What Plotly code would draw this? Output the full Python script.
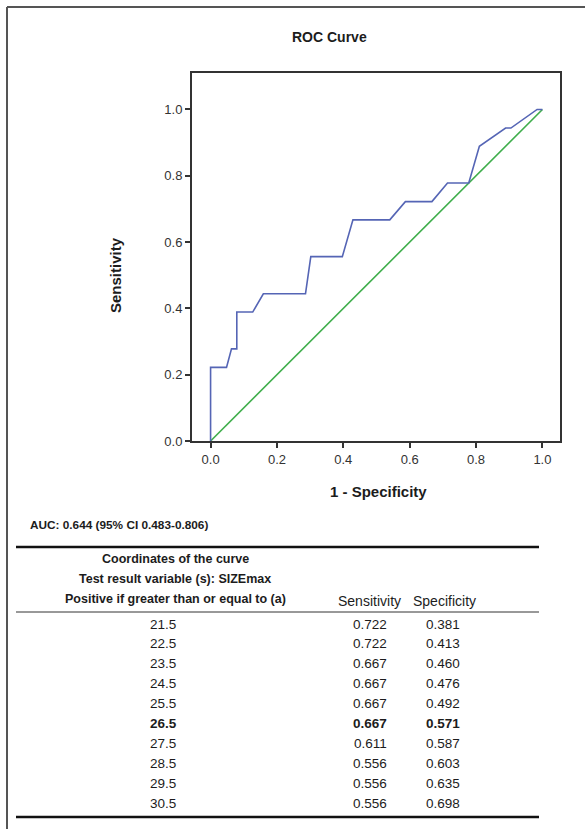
import plotly.graph_objects as go

# ROC curve data (1 - specificity, sensitivity)
fpr = [0, 0, 0.048, 0.063, 0.079, 0.079, 0.127, 0.159, 0.286, 0.302, 0.397, 0.413,
       0.429, 0.540, 0.587, 0.667, 0.714, 0.778, 0.810, 0.889, 0.905, 0.984, 1.0]
tpr = [0, 0.222, 0.222, 0.278, 0.278, 0.389, 0.389, 0.444, 0.444, 0.556, 0.556, 0.611,
       0.667, 0.667, 0.722, 0.722, 0.778, 0.778, 0.889, 0.944, 0.944, 1.0, 1.0]
ref_x = [0, 1]
ref_y = [0, 1]
tick_vals = [0.0, 0.2, 0.4, 0.6, 0.8, 1.0]
tick_text = ["0.0", "0.2", "0.4", "0.6", "0.8", "1.0"]

# Table data
thresholds = ["21.5", "22.5", "23.5", "24.5", "25.5", "26.5", "27.5", "28.5", "29.5", "30.5"]
sensitivity = ["0.722", "0.722", "0.667", "0.667", "0.667", "0.667", "0.611", "0.556", "0.556", "0.556"]
specificity = ["0.381", "0.413", "0.460", "0.476", "0.492", "0.571", "0.587", "0.603", "0.635", "0.698"]
bold_row = "26.5"
header_lines = ["Coordinates of the curve", "Test result variable (s): SIZEmax",
                "Positive if greater than or equal to (a)"]
auc_text = "AUC: 0.644 (95% CI 0.483-0.806)"

W, H = 585, 829
L, R, T, B = 192, 560, 73, 441
PW, PH = R - L, B - T


def px(x):
    return (x - L) / PW


def py(y):
    return (B - y) / PH


SANS = "Liberation Sans, Arial, sans-serif"
INK = "#1c1c1c"

fig = go.Figure()
fig.add_trace(go.Scatter(x=ref_x, y=ref_y, mode="lines",
                         line=dict(color="#3fae4c", width=1.6), hoverinfo="skip"))
fig.add_trace(go.Scatter(x=fpr, y=tpr, mode="lines",
                         line=dict(color="#5565b5", width=1.6)))

axis_common = dict(showgrid=False, zeroline=False, showline=True, mirror=True,
                   linecolor="#333333", linewidth=2, ticks="outside", ticklen=5,
                   tickwidth=2, tickcolor="#333333",
                   tickfont=dict(family=SANS, size=13, color="#333333"),
                   tickvals=tick_vals, ticktext=tick_text)
fig.update_xaxes(range=[-0.056, 1.053], **axis_common)
fig.update_yaxes(range=[0, 1.11], **axis_common)


def ann(text, x, y, size, xanchor="center", angle=0):
    return dict(text=text, x=px(x), y=py(y), xref="paper", yref="paper",
                xanchor=xanchor, yanchor="middle", showarrow=False, textangle=angle,
                font=dict(family=SANS, size=size, color=INK))


anns = [
    ann("<b>ROC Curve</b>", 329, 37, 14),
    ann("<b>1 - Specificity</b>", 378, 491, 15),
    ann("<b>Sensitivity</b>", 115, 275, 15, angle=-90),
    ann("<b>" + auc_text + "</b>", 28, 525, 11.8, xanchor="left"),
    ann("Sensitivity", 369, 601, 14),
    ann("Specificity", 444, 601, 14),
]
for i, line in enumerate(header_lines):
    anns.append(ann("<b>" + line + "</b>", 175, 559 + 20 * i, 12.5))
for i, (t, s, sp) in enumerate(zip(thresholds, sensitivity, specificity)):
    yy = 624 + 19.9 * i
    for val, xc in ((t, 163), (s, 370), (sp, 443)):
        txt = "<b>" + val + "</b>" if t == bold_row else val
        anns.append(ann(txt, xc, yy, 13.5))


def hline(x0, x1, y, color, width):
    return dict(type="line", xref="paper", yref="paper", x0=px(x0), x1=px(x1),
                y0=py(y), y1=py(y), line=dict(color=color, width=width))


shapes = [
    hline(7, 590, 7, "#555555", 2),
    dict(type="line", xref="paper", yref="paper", x0=px(7), x1=px(7),
         y0=py(7), y1=py(835), line=dict(color="#555555", width=2)),
    hline(16, 539, 547, "#111111", 2.5),
    hline(16, 539, 612, "#333333", 1),
    hline(16, 539, 817, "#111111", 2.5),
]

fig.update_layout(width=W, height=H, margin=dict(l=L, r=W - R, t=T, b=H - B),
                  paper_bgcolor="white", plot_bgcolor="white", showlegend=False,
                  annotations=anns, shapes=shapes)

fig.write_html("out.html", config={"displayModeBar": False},
               post_script="document.body.style.margin='0';")
